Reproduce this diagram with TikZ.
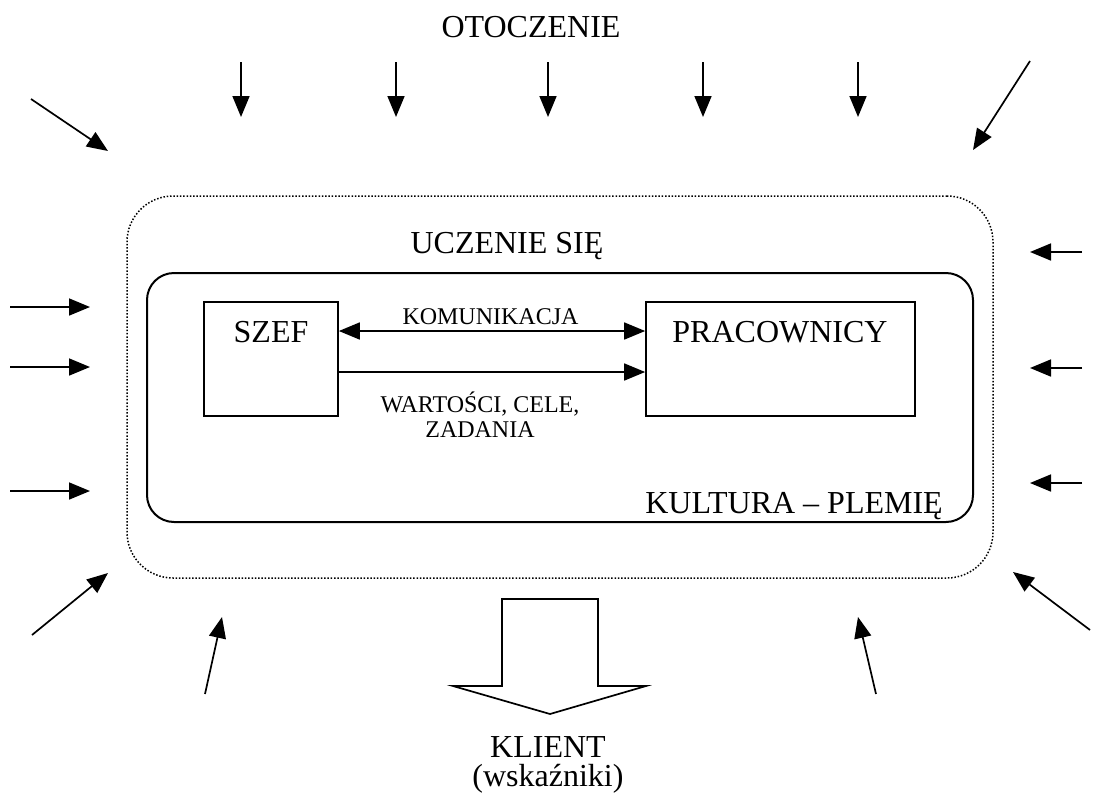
\documentclass[tikz,border=0pt]{standalone}
\usepackage{fontspec}
\setmainfont{Liberation Serif}
\usetikzlibrary{arrows.meta}
\begin{document}
\begin{tikzpicture}[x=1pt,y=-1pt,
  bigtext/.style={font=\fontsize{32}{29}\selectfont, inner sep=0pt},
  smalltext/.style={font=\fontsize{24}{25}\selectfont, inner sep=0pt},
  arr/.style={line width=1.7pt, -{Triangle[length=21pt,width=17pt]}},
  dblarr/.style={line width=1.7pt, {Triangle[length=21pt,width=17pt]}-{Triangle[length=21pt,width=17pt]}},
  boxnode/.style={draw, line width=1.7pt, inner sep=0pt},
]
\useasboundingbox (0,0) rectangle (1109,809);

% outer dotted frame and inner culture frame
\node[draw, line width=1.5pt, dash pattern=on 1.5pt off 1.8pt, rounded corners=46pt,
  minimum width=866pt, minimum height=382pt, inner sep=0pt] (otoczenieframe) at (560,387) {};
\node[draw, line width=2pt, rounded corners=27pt,
  minimum width=826pt, minimum height=249pt, inner sep=0pt] (kultura) at (560,397.5) {};

% boxes
\node[boxnode, minimum width=134pt, minimum height=114pt] (szef) at (271,359) {};
\node[boxnode, minimum width=269pt, minimum height=114pt] (prac) at (780.5,359) {};

% texts
\node[bigtext, anchor=base] (otoczenie) at (531,37) {OTOCZENIE};
\node[bigtext, anchor=base] (uczenie) at (507,253) {UCZENIE SIĘ};
\node[bigtext, anchor=base] (szeft) at (271,342) {SZEF};
\node[bigtext, anchor=base] (pract) at (780,342) {PRACOWNICY};
\node[bigtext, anchor=base east] (kulturat) at (943,513) {KULTURA – PLEMIĘ};
\node[smalltext, anchor=base] (komunikacja) at (490.5,324) {KOMUNIKACJA};
\node[smalltext, anchor=base, align=center] (wartosci) at (480,437) {WARTOŚCI, CELE,\\ZADANIA};
\node[bigtext, anchor=base, align=center] (klient) at (548,786) {KLIENT\\(wskaźniki)};

% inner connectors
\draw[dblarr] ([yshift=28pt]szef.east) -- ([yshift=28pt]prac.west);
\draw[arr] ([yshift=-13pt]szef.east) -- ([yshift=-13pt]prac.west);

% big output arrow
\draw[line width=1.7pt, line join=miter] (502,599) -- (598,599) -- (598,686) -- (646,686)
  -- (550,714) -- (453,686) -- (502,686) -- cycle;

% environment arrows: top
\foreach \xx in {241,396,548,703,858} {
  \draw[arr] (\xx,62) -- (\xx,117);
}
\draw[arr] (31,99) -- (108,151);
\draw[arr] (1030,61) -- (973,150);
% left side
\foreach \yy in {307,367,491} {
  \draw[arr] (10,\yy) -- (90,\yy);
}
% right side
\foreach \yy in {252,368,483} {
  \draw[arr] (1082,\yy) -- (1030,\yy);
}
% bottom
\draw[arr] (32,635) -- (108,573);
\draw[arr] (205,694) -- (222,617);
\draw[arr] (876,694) -- (858,617);
\draw[arr] (1090,630) -- (1013,572);
\end{tikzpicture}
\end{document}
